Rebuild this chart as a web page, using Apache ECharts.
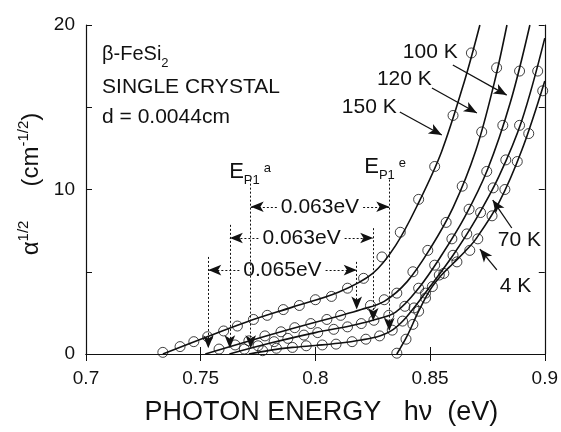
<!DOCTYPE html>
<html>
<head>
<meta charset="utf-8">
<script src="https://cdn.jsdelivr.net/npm/echarts@6/dist/echarts.min.js"></script>
<style>
  html, body { margin: 0; padding: 0; background: #fff; }
  #main { width: 561px; height: 432px; }
</style>
</head>
<body>
<div id="main"></div>
<script>
// photon energy (eV) vs alpha^1/2 (cm^-1/2)
// fitted curves
const fit150 = [[0.7335, 0], [0.75, 0.9], [0.77, 1.95], [0.79, 2.85], [0.81, 3.75], [0.825, 4.9], [0.835, 6.6], [0.845, 9.2], [0.855, 12.3], [0.865, 16.6], [0.8717, 20]];
const fit120 = [[0.752, 0], [0.77, 0.75], [0.79, 1.55], [0.81, 2.3], [0.82, 2.7], [0.83, 3.2], [0.84, 4.4], [0.85, 6.4], [0.86, 8.9], [0.87, 12.4], [0.878, 16.5], [0.8835, 20]];
const fit100 = [[0.7625, 0], [0.78, 0.65], [0.80, 1.3], [0.815, 1.7], [0.825, 2.05], [0.835, 2.55], [0.845, 4.0], [0.855, 6.0], [0.865, 8.3], [0.875, 11.2], [0.885, 15.3], [0.8935, 20]];
const fit70 = [[0.771, 0], [0.78, 0.22], [0.79, 0.4], [0.80, 0.52], [0.81, 0.65], [0.82, 0.85], [0.828, 1.1], [0.834, 1.5], [0.84, 2.3], [0.85, 4.1], [0.86, 6.0], [0.87, 8.2], [0.88, 10.8], [0.89, 14.2], [0.9, 19.2]];
const fit4 = [[0.8355, 0], [0.84, 1.1], [0.845, 2.6], [0.85, 3.9], [0.855, 4.8], [0.86, 5.5], [0.865, 6.2], [0.87, 7.0], [0.88, 9.2], [0.89, 12.4], [0.9, 16.6]];

// measured points (circles)
const pts150 = [[0.7335, 0.1], [0.741, 0.45], [0.747, 0.75], [0.753, 1.05], [0.760, 1.4], [0.766, 1.7], [0.773, 2.1], [0.779, 2.35], [0.786, 2.7], [0.793, 2.95], [0.800, 3.3], [0.807, 3.5], [0.814, 4.0], [0.821, 4.6], [0.829, 5.9], [0.837, 7.4], [0.845, 9.4], [0.852, 11.4], [0.860, 14.5], [0.868, 18.3]];
const pts120 = [[0.758, 0.3], [0.765, 0.55], [0.771, 0.8], [0.778, 1.1], [0.785, 1.35], [0.791, 1.6], [0.798, 1.85], [0.805, 2.1], [0.811, 2.35], [0.824, 2.95], [0.830, 3.3], [0.8355, 3.7], [0.8425, 5.0], [0.849, 6.3], [0.857, 8.0], [0.864, 10.2], [0.8725, 13.5], [0.879, 17.4]];
const pts100 = [[0.769, 0.3], [0.775, 0.5], [0.782, 0.75], [0.788, 0.95], [0.795, 1.15], [0.801, 1.3], [0.808, 1.5], [0.814, 1.65], [0.820, 1.85], [0.8255, 2.05], [0.832, 2.35], [0.839, 2.9], [0.845, 4.0], [0.852, 5.4], [0.8595, 7.0], [0.867, 8.8], [0.8747, 11.1], [0.8817, 13.9], [0.889, 17.2]];
const pts70 = [[0.777, 0.2], [0.783, 0.35], [0.790, 0.4], [0.796, 0.5], [0.803, 0.55], [0.809, 0.6], [0.816, 0.75], [0.822, 0.9], [0.828, 1.1], [0.8335, 1.45], [0.838, 2.0], [0.843, 2.8], [0.848, 3.7], [0.854, 4.8], [0.860, 6.0], [0.866, 7.3], [0.872, 8.6], [0.8775, 10.1], [0.883, 11.8], [0.889, 13.9], [0.8969, 17.2]];
const pts4 = [[0.8355, 0.05], [0.8395, 0.9], [0.8425, 1.8], [0.845, 2.6], [0.848, 3.4], [0.851, 4.1], [0.856, 4.9], [0.8617, 5.6], [0.8673, 6.3], [0.8708, 7.0], [0.877, 8.4], [0.8826, 10.0], [0.888, 11.7], [0.893, 13.4], [0.8991, 16.0]];

const xTicks = [0.7, 0.75, 0.8, 0.85, 0.9];
const yTicks = [0, 10, 20];

// E_P1 marks: energy, top of guide, arrow tip
const guideA = [[0.7533, 5.9, 0.35], [0.7627, 7.85, 0.35], [0.7718, 10.6, 0.35]];
const guideE = [[0.818, 5.6, 2.7], [0.8252, 7.65, 2.0], [0.8322, 10.6, 1.4]];
const gapLabels = ['0.065eV', '0.063eV', '0.063eV'];
const gapY = [5.1, 7.05, 8.95];

const ink = '#111';
const font = 'Liberation Sans, Arial, Helvetica, sans-serif';

const chart = echarts.init(document.getElementById('main'));

function curve(data) {
  return {
    type: 'line', data: data, smooth: 0.35, showSymbol: false, silent: true,
    lineStyle: {color: ink, width: 1.6}, z: 3
  };
}
function dots(data) {
  return {
    type: 'scatter', data: data, symbol: 'circle', symbolSize: 10, silent: true,
    itemStyle: {color: 'rgba(0,0,0,0)', borderColor: ink, borderWidth: 1}, z: 4
  };
}

// annotation lines
const marks = [];
for (let i = 0; i < 3; i++) {
  const a = guideA[i], e = guideE[i];
  marks.push([{coord: [a[0], a[1]]}, {coord: [a[0], a[2]]}]);
  marks.push([{coord: [e[0], e[1]]}, {coord: [e[0], e[2]]}]);
  const mid = (a[0] + e[0]) / 2;
  marks.push([{coord: [mid - 0.0188, gapY[i]]}, {coord: [a[0], gapY[i]]}]);
  marks.push([{coord: [mid + 0.0188, gapY[i]]}, {coord: [e[0], gapY[i]]}]);
}
const solid = {type: 'solid', width: 1.3, color: ink};
const tempArrows = [
  [[0.8368, 14.71], [0.8551, 13.31]],
  [[0.8508, 16.17], [0.8704, 14.65]],
  [[0.8599, 17.57], [0.8834, 15.74]],
  [[0.8856, 7.66], [0.8773, 9.36]],
  [[0.8791, 5.11], [0.8717, 6.38]]
];
tempArrows.forEach(function (p) {
  marks.push([{coord: p[0], lineStyle: solid}, {coord: p[1]}]);
});

// annotation texts
function txt(x, y, text, pos) {
  return {coord: [x, y], label: {show: true, position: pos || 'right', distance: 0, formatter: text}};
}
const texts = [
  txt(0.707, 18.18, '{f|β-FeSi}{b|2}'),
  txt(0.707, 16.23, 'SINGLE CRYSTAL'),
  txt(0.707, 14.41, 'd = 0.0044cm'),
  txt(0.7624, 11.05, '{t|E}{b|P1}{s|a}'),
  txt(0.8213, 11.37, '{t|E}{b|P1}{s|e}'),
  txt(0.8115, 15.02, '150 K'),
  txt(0.8268, 16.72, '120 K'),
  txt(0.8381, 18.36, '100 K'),
  txt(0.8795, 6.93, '70 K'),
  txt(0.8804, 4.13, '4 K')
];
for (let i = 0; i < 3; i++) {
  texts.push(txt((guideA[i][0] + guideE[i][0]) / 2, gapY[i], gapLabels[i], 'inside'));
}

const axisCommon = {
  type: 'value', min: 0.7, max: 0.9, interval: 0.05,
  axisLine: {lineStyle: {color: ink, width: 1.2}},
  axisTick: {inside: true, length: 7, lineStyle: {color: ink}},
  splitLine: {show: false}
};

const option = {
  animation: false,
  backgroundColor: '#fff',
  textStyle: {fontFamily: font, color: ink},
  grid: {left: 86, right: 16, top: 25, bottom: 78},
  xAxis: [
    Object.assign({}, axisCommon, {
      position: 'bottom',
      axisLabel: {fontSize: 19, color: ink, margin: 15, fontFamily: font,
        formatter: function (v) { return xTicks.indexOf(+v.toFixed(2)) >= 0 ? String(+v.toFixed(2)) : ''; }},
      name: 'PHOTON ENERGY   hν  (eV)',
      nameLocation: 'middle', nameGap: 45,
      nameTextStyle: {fontSize: 27, color: ink, fontFamily: font, padding: [0, 0, 0, 12]}
    }),
    Object.assign({}, axisCommon, {position: 'top', axisLabel: {show: false}})
  ],
  yAxis: [
    {
      type: 'value', min: 0, max: 20, interval: 5, position: 'left',
      axisLine: {lineStyle: {color: ink, width: 1.2}},
      axisTick: {inside: true, length: 6, lineStyle: {color: ink}},
      splitLine: {show: false},
      axisLabel: {fontSize: 19, color: ink, margin: 11, fontFamily: font,
        formatter: function (v) { return yTicks.indexOf(v) >= 0 ? String(v) : ''; }},
      name: '{a|α}{s|1/2}{g| }{a|(cm}{s|-1/2}{a|)}',
      nameLocation: 'middle', nameGap: 37, nameRotate: 90,
      nameTextStyle: {
        color: ink, fontFamily: font, padding: [0, 0, 0, 11],
        rich: {
          a: {fontSize: 24, lineHeight: 30, fontFamily: font, color: ink},
          s: {fontSize: 15, lineHeight: 15, verticalAlign: 'top', fontFamily: font, color: ink},
          g: {fontSize: 24, lineHeight: 30, width: 34}
        }
      }
    },
    {
      type: 'value', min: 0, max: 20, interval: 5, position: 'right',
      axisLine: {lineStyle: {color: ink, width: 1.2}},
      axisTick: {inside: true, length: 6, lineStyle: {color: ink}},
      splitLine: {show: false}, axisLabel: {show: false}
    }
  ],
  series: [
    curve(fit150), curve(fit120), curve(fit100), curve(fit70), curve(fit4),
    dots(pts150), dots(pts120), dots(pts100), dots(pts70), dots(pts4),
    {
      type: 'line', data: [], silent: true, z: 5,
      markLine: {
        silent: true, animation: false,
        symbol: ['none', 'arrow'], symbolSize: [8, 13],
        label: {show: false},
        lineStyle: {color: ink, type: [2, 2], width: 1},
        data: marks
      },
      markPoint: {
        silent: true, animation: false,
        symbol: 'circle', symbolSize: 0,
        itemStyle: {color: 'rgba(0,0,0,0)'},
        label: {
          color: ink, fontSize: 21, fontFamily: font,
          rich: {
            f: {fontSize: 20, lineHeight: 30, fontFamily: font, color: ink},
            t: {fontSize: 22, lineHeight: 30, fontFamily: font, color: ink},
            b: {fontSize: 13, lineHeight: 14, verticalAlign: 'bottom', fontFamily: font, color: ink},
            s: {fontSize: 13, lineHeight: 14, verticalAlign: 'top', padding: [5, 0, 0, 4], fontFamily: font, color: ink}
          }
        },
        data: texts
      }
    }
  ]
};

chart.setOption(option);
</script>
</body>
</html>
